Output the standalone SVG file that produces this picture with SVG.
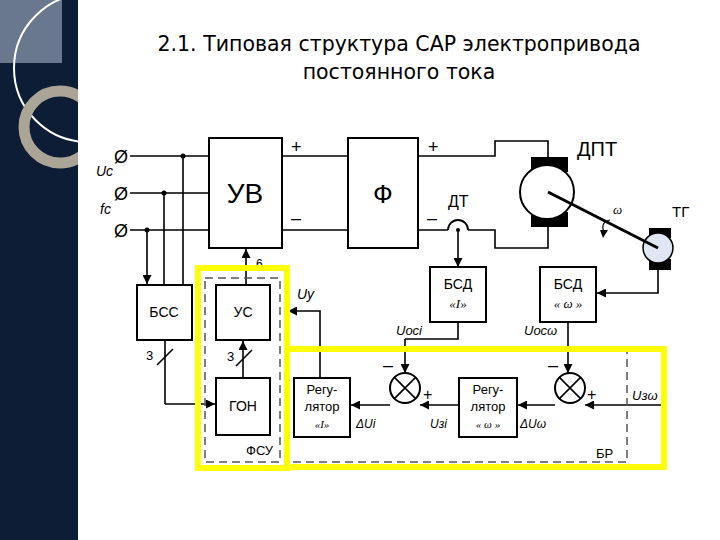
<svg xmlns="http://www.w3.org/2000/svg" width="720" height="540" viewBox="0 0 720 540">
<defs>
<marker id="a" viewBox="0 0 10 10" refX="10" refY="5" markerWidth="9" markerHeight="9" markerUnits="userSpaceOnUse" orient="auto"><path d="M0,0L10,5L0,10z" fill="#000"/></marker>
<clipPath id="lp"><rect x="0" y="0" width="78" height="540"/></clipPath>
</defs>
<style>
.b{fill:#fff;stroke:#000;stroke-width:2}
.l{fill:none;stroke:#000;stroke-width:1.6}
.ar{fill:none;stroke:#000;stroke-width:1.6;marker-end:url(#a)}
.t{font-family:"Liberation Sans",Arial,sans-serif;fill:#000}
.i{font-family:"Liberation Sans",Arial,sans-serif;font-style:italic;fill:#000}
.d{fill:none;stroke:#555;stroke-width:1.5;stroke-dasharray:8,5}
.y{fill:none;stroke:#ffff00;stroke-width:6}
.ti{font-family:"DejaVu Sans",sans-serif;font-size:20.5px;fill:#000}
</style>
<rect width="720" height="540" fill="#fff"/>
<g clip-path="url(#lp)">
<rect x="0" y="0" width="78" height="540" fill="#0e1d36"/>
<rect x="0" y="0" width="62" height="63" fill="#69788c"/>
<circle cx="88" cy="68" r="74" fill="none" stroke="#fff" stroke-width="2"/>
<circle cx="60" cy="127" r="36" fill="none" stroke="#aaa596" stroke-width="11"/>
</g>
<g id="title" text-anchor="middle">
<text class="ti" x="399" y="51">2.1. Типовая структура САР электропривода</text>
<text class="ti" x="399" y="79">постоянного тока</text>
</g>
<g id="connectors">
<path class="l" d="M130,156H209M130,193H209M130,230H209"/>
<circle cx="183" cy="156" r="2.5"/><circle cx="164" cy="193" r="2.5"/><circle cx="147" cy="230" r="2.5"/>
<path class="ar" d="M183,156V284M164,193V284M147,230V284"/>
<path class="l" d="M282,156H348M282,230H348"/>
<path class="l" d="M418,156H495V141H548V158"/>
<path class="l" d="M418,230H448M468,230H495V248H548V226"/>
<path d="M448,230A10,10 0 0 1 468,230" fill="none" stroke="#000" stroke-width="1.8"/>
<circle cx="458" cy="230" r="2"/>
<path class="ar" d="M458,230V267"/>
<path class="ar" d="M658,270V293H597"/>
<path class="l" d="M458,322V339H405"/>
<path class="ar" d="M320,378V311H288"/>
<path class="ar" d="M243,378V341"/>
<path class="ar" d="M246,285V249"/>
<path class="l" d="M165,340V404"/><path class="ar" d="M165,404H215"/>
<path class="l" d="M157,365L173,349M236,366L252,350"/>
<path d="M610,220Q600,222 604,232" fill="none" stroke="#000" stroke-width="1.2"/>
<path d="M600,230L608,230L603,238z" fill="#000"/>
</g>
<g id="UV"><rect class="b" x="209" y="138" width="73" height="110"/><text class="t" x="245" y="203" font-size="28" text-anchor="middle">УВ</text></g>
<g id="F"><rect class="b" x="348" y="138" width="70" height="110"/><text class="t" x="383" y="203" font-size="26" text-anchor="middle">Ф</text></g>
<text class="t" x="291" y="153" font-size="18">+</text><text class="t" x="291" y="224" font-size="18">–</text>
<text class="t" x="428" y="153" font-size="18">+</text><text class="t" x="427" y="224" font-size="18">–</text>
<g id="DPT">
<rect x="531" y="157" width="37" height="15" fill="#000"/><rect x="531" y="212" width="37" height="15" fill="#000"/>
<circle cx="547" cy="192" r="27" fill="#fff" stroke="#000" stroke-width="2"/>
<text class="t" x="577" y="156" font-size="20">ДПТ</text>
</g>
<g id="TG">
<rect x="649" y="228" width="22" height="10" fill="#000"/><rect x="649" y="259" width="22" height="11" fill="#000"/>
<circle cx="658" cy="248" r="15" fill="#dfe6f4" stroke="#000" stroke-width="1.5"/>
<path d="M548,192L658,248" stroke="#000" stroke-width="3"/>
<text class="t" x="672" y="217" font-size="15">ТГ</text>
</g>
<text x="613" y="214" font-family="Liberation Serif,serif" font-style="italic" font-size="13">ω</text>
<text class="t" x="448" y="207" font-size="16">ДТ</text>
<text class="i" x="96" y="176" font-size="14">Uc</text>
<text class="i" x="100" y="214" font-size="14">fc</text>
<g class="t" font-size="18"><text x="114" y="163">Ø</text><text x="114" y="200">Ø</text><text x="114" y="237">Ø</text></g>
<g id="BSDI"><rect class="b" x="430" y="267" width="56" height="55"/><text class="t" x="458" y="289" font-size="14" text-anchor="middle">БСД</text><text x="458" y="308" font-family="Liberation Serif,serif" font-style="italic" font-size="13" text-anchor="middle">«I»</text></g>
<g id="BSDw"><rect class="b" x="540" y="267" width="56" height="55"/><text class="t" x="568" y="289" font-size="14" text-anchor="middle">БСД</text><text x="568" y="308" font-family="Liberation Serif,serif" font-style="italic" font-size="13" text-anchor="middle">« ω »</text></g>
<text class="i" x="396" y="335" font-size="13">Uосі</text>
<text class="i" x="524" y="335" font-size="13">Uосω</text>
<g id="BSS"><rect class="b" x="137" y="285" width="55" height="55"/><text class="t" x="164" y="317" font-size="14" text-anchor="middle">БСС</text></g>
<text class="t" x="146" y="360" font-size="13">3</text>
<g id="US"><rect class="b" x="216" y="285" width="54" height="55"/><text class="t" x="243" y="317" font-size="14" text-anchor="middle">УС</text></g>
<g id="GON"><rect class="b" x="216" y="378" width="54" height="57"/><text class="t" x="243" y="411" font-size="14" text-anchor="middle">ГОН</text></g>
<text class="t" x="227" y="361" font-size="13">3</text>
<text class="t" x="256" y="268" font-size="12">6</text>
<text class="i" x="297" y="299" font-size="14">Uу</text>
<text class="t" x="246" y="455" font-size="13">ФСУ</text>
<g id="RegI"><rect class="b" x="294" y="378" width="56" height="59"/><text class="t" x="322" y="394" font-size="13" text-anchor="middle">Регу-</text><text class="t" x="322" y="411" font-size="13" text-anchor="middle">лятор</text><text x="322" y="428" font-family="Liberation Serif,serif" font-style="italic" font-size="11" text-anchor="middle">«I»</text></g>
<g id="RegW"><rect class="b" x="459" y="378" width="58" height="59"/><text class="t" x="488" y="394" font-size="13" text-anchor="middle">Регу-</text><text class="t" x="488" y="411" font-size="13" text-anchor="middle">лятор</text><text x="488" y="428" font-family="Liberation Serif,serif" font-style="italic" font-size="11" text-anchor="middle">« ω »</text></g>
<g id="S1"><circle cx="405" cy="388" r="15" class="b" stroke-width="1.5"/><path class="l" d="M394.4,377.4L415.6,398.6M415.6,377.4L394.4,398.6"/></g>
<g id="S2"><circle cx="570" cy="388" r="15" class="b" stroke-width="1.5"/><path class="l" d="M559.4,377.4L580.6,398.6M580.6,377.4L559.4,398.6"/></g>
<g id="connectors2">
<path class="ar" d="M405,339V373"/><path class="ar" d="M568,322V373"/>
<path class="ar" d="M662,405H585"/><path class="ar" d="M555,405H518"/><path class="ar" d="M459,405H420"/><path class="ar" d="M390,405H351"/>
</g>
<text class="t" x="383" y="371" font-size="18">–</text><text class="t" x="548" y="371" font-size="18">–</text>
<text class="t" x="423" y="400" font-size="16">+</text><text class="t" x="587" y="400" font-size="16">+</text>
<text class="i" x="356" y="428" font-size="12">ΔUi</text>
<text class="i" x="430" y="428" font-size="12">Uзі</text>
<text class="i" x="520" y="428" font-size="12">ΔUω</text>
<text class="i" x="632" y="400" font-size="13">Uзω</text>
<text class="t" x="596" y="458" font-size="13">БР</text>
<rect class="d" x="205" y="278" width="75" height="184"/>
<path class="d" d="M287,348H627V462H287"/>
<rect class="y" x="198" y="268" width="89" height="200"/>
<rect class="y" x="287" y="349" width="377" height="118"/>
</svg>
